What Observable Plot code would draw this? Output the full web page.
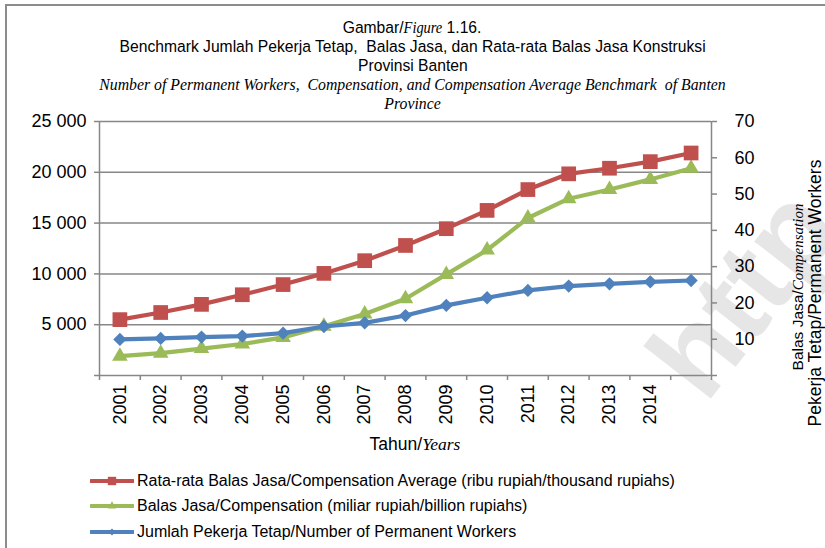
<!DOCTYPE html>
<html>
<head>
<meta charset="utf-8">
<script src="https://cdn.jsdelivr.net/npm/d3@7"></script>
<script src="https://cdn.jsdelivr.net/npm/@observablehq/plot@0.6"></script>
<style>
  body { margin: 0; background: #fff; }
  #wrap { position: relative; width: 825px; height: 548px; overflow: hidden; background: #fff; }
  #frame { position: absolute; left: 5px; top: 4px; width: 840px; height: 570px; border: 2px solid #8c8c8c; }
  .sans { font-family: "Liberation Sans", Arial, sans-serif; }
  .serif { font-family: "Liberation Serif", "Times New Roman", serif; font-style: italic; }
  #title { position: absolute; top: 18px; left: 0; width: 825px; text-align: center; color: #000; }
  #title > div { white-space: nowrap; height: 19px; line-height: 19px; }
  .tl { display: inline-block; font-family: "Liberation Sans", Arial, sans-serif; font-size: 17.4px; transform: scaleX(0.9); transform-origin: center; }
  .ts { display: inline-block; font-family: "Liberation Serif", "Times New Roman", serif; font-style: italic; font-size: 15.8px; }
  #watermark { position: absolute; left: 742px; top: 292px; transform: translate(-50%, -50%) rotate(-52deg); font-family: "Liberation Sans", Arial, sans-serif; font-weight: bold; font-size: 118px; line-height: 118px; color: #e6e6e6; white-space: nowrap; }
  #chart { position: absolute; top: 112px; left: 0; }
  #xtitle { position: absolute; top: 434px; left: 315px; width: 200px; text-align: center; font-size: 17.5px; white-space: nowrap; }
  .rtitle { position: absolute; width: 300px; left: 0; top: 0; text-align: center; white-space: nowrap; line-height: 18px; }
  #legend { position: absolute; left: 90px; top: 468px; font-size: 16px; }
  .lrow { display: flex; align-items: center; height: 25.5px; white-space: nowrap; }
  .lrow svg { margin-right: 3px; }
</style>
</head>
<body>
<div id="wrap">
  <div id="frame"></div>
  <div id="watermark">http</div>
  <div id="title">
    <div><span class="tl">Gambar/<span class="serif" style="font-size:16px">Figure</span> 1.16.</span></div>
    <div><span class="tl">Benchmark Jumlah Pekerja Tetap, &nbsp;Balas Jasa, dan Rata-rata Balas Jasa Konstruksi</span></div>
    <div><span class="tl">Provinsi Banten</span></div>
    <div><span class="ts">Number of Permanent Workers, &nbsp;Compensation, and Compensation Average Benchmark &nbsp;of Banten</span></div>
    <div><span class="ts">Province</span></div>
  </div>
  <div id="chart"></div>
  <div id="xtitle"><span class="sans">Tahun/</span><span class="serif">Years</span></div>
  <div class="rtitle" style="transform: translate(648px, 278px) rotate(-90deg);"><span class="sans" style="font-size:15.5px">Balas Jasa/</span><span class="serif" style="font-size:15px">Compensation</span></div>
  <div class="rtitle sans" style="transform: translate(665px, 284px) rotate(-90deg); font-size: 17.5px;">Pekerja Tetap/Permanent Workers</div>
  <div id="legend" class="sans"></div>
</div>
<script>
// ---- data ----
const years = [2001, 2002, 2003, 2004, 2005, 2006, 2007, 2008, 2009, 2010, 2011, 2012, 2013, 2014, 2015];
const yearLabels = ["2001", "2002", "2003", "2004", "2005", "2006", "2007", "2008", "2009", "2010", "2011", "2012", "2013", "2014", ""];
const avgCompensation = [5500, 6200, 7000, 7950, 8950, 10050, 11300, 12800, 14450, 16250, 18300, 19850, 20400, 21050, 21900];
const compensation = [1900, 2200, 2650, 3100, 3750, 4850, 6050, 7550, 9950, 12350, 15500, 17400, 18300, 19300, 20400];
const workers = [3550, 3650, 3780, 3880, 4170, 4820, 5180, 5900, 6900, 7650, 8370, 8800, 9020, 9220, 9350];
const leftTicks = [0, 5000, 10000, 15000, 20000, 25000];
const rightTicks = [0, 10, 20, 30, 40, 50, 60, 70];
const rightMax = 70, leftMax = 25000;

const seriesNames = [
  "Rata-rata Balas Jasa/Compensation Average (ribu rupiah/thousand rupiahs)",
  "Balas Jasa/Compensation (miliar rupiah/billion rupiahs)",
  "Jumlah Pekerja Tetap/Number of Permanent Workers"
];
const seriesColors = ["#C0504D", "#9BBB59", "#4F81BD"];
const seriesSymbols = ["square", "triangle", "diamond2"];
const seriesR = [8.3, 5.8, 6.0];

const table = (vals) => years.map((y, i) => ({year: y, value: vals[i]}));
const redData = table(avgCompensation);
const greenData = table(compensation);
const blueData = table(workers);

const spaceFmt = d => d === 0 ? "" : d3.format(",")(d).replace(/,/g, " ");
const boundaries = d3.range(years[0] - 0.5, years[years.length - 1] + 1, 1);
const gridColor = "#878787";

function series(data, k) {
  return [
    Plot.line(data, {x: "year", y: "value", stroke: seriesColors[k], strokeWidth: 4.2}),
    Plot.dot(data, {x: "year", y: "value", symbol: seriesSymbols[k], r: seriesR[k], fill: seriesColors[k], stroke: "none"})
  ];
}

const chart = Plot.plot({
  width: 825,
  height: 345,
  marginTop: 9,
  marginBottom: 82,
  marginLeft: 99,
  marginRight: 114,
  x: {type: "linear", domain: [boundaries[0], boundaries[boundaries.length - 1]]},
  y: {domain: [0, leftMax]},
  style: {fontFamily: "'Liberation Sans', Arial, sans-serif", fontSize: "18px", color: "#000", background: "transparent", overflow: "visible"},
  marks: [
    Plot.gridY(leftTicks.filter(d => d > 0), {stroke: gridColor, strokeOpacity: 1, strokeWidth: 1.5}),
    Plot.ruleY([0], {stroke: gridColor, strokeWidth: 1.5}),
    Plot.ruleX([boundaries[0], boundaries[boundaries.length - 1]], {stroke: gridColor, strokeWidth: 1.5}),
    Plot.axisY(leftTicks, {anchor: "left", tickSize: 5, tickPadding: 8, tickFormat: spaceFmt, label: null, stroke: gridColor, strokeWidth: 1.5}),
    Plot.axisY(rightTicks.map(v => v * leftMax / rightMax), {anchor: "right", tickSize: 5, tickPadding: 18, tickFormat: d => { const v = Math.round(d * rightMax / leftMax); return v === 0 ? "" : String(v); }, label: null, stroke: gridColor, strokeWidth: 1.5, textAnchor: "start"}),
    Plot.axisX(boundaries, {anchor: "bottom", tickSize: 5, tickFormat: () => "", label: null, stroke: gridColor, strokeWidth: 1.5}),
    Plot.axisX(years, {anchor: "bottom", tickSize: 0, tickPadding: 9, tickRotate: -90, tickFormat: (d) => yearLabels[years.indexOf(d)], label: null}),
    ...series(greenData, 1),
    ...series(blueData, 2),
    ...series(redData, 0)
  ]
});
document.getElementById("chart").appendChild(chart);

// legend
const legend = document.getElementById("legend");
seriesNames.forEach((name, k) => {
  const row = document.createElement("div");
  row.className = "lrow";
  const w = 44, h = 12;
  const sym = d3.symbol().type(
    seriesSymbols[k] === "square" ? d3.symbolSquare : seriesSymbols[k] === "triangle" ? d3.symbolTriangle : d3.symbolDiamond2
  ).size(k === 0 ? 70 : 30)();
  row.innerHTML = `<svg width="${w}" height="${h}"><line x1="1" x2="${w - 1}" y1="${h / 2}" y2="${h / 2}" stroke="${seriesColors[k]}" stroke-width="4" stroke-linecap="round"/><path d="${sym}" transform="translate(${w / 2},${h / 2})" fill="${seriesColors[k]}"/></svg><span>${name}</span>`;
  legend.appendChild(row);
});
</script>
</body>
</html>
